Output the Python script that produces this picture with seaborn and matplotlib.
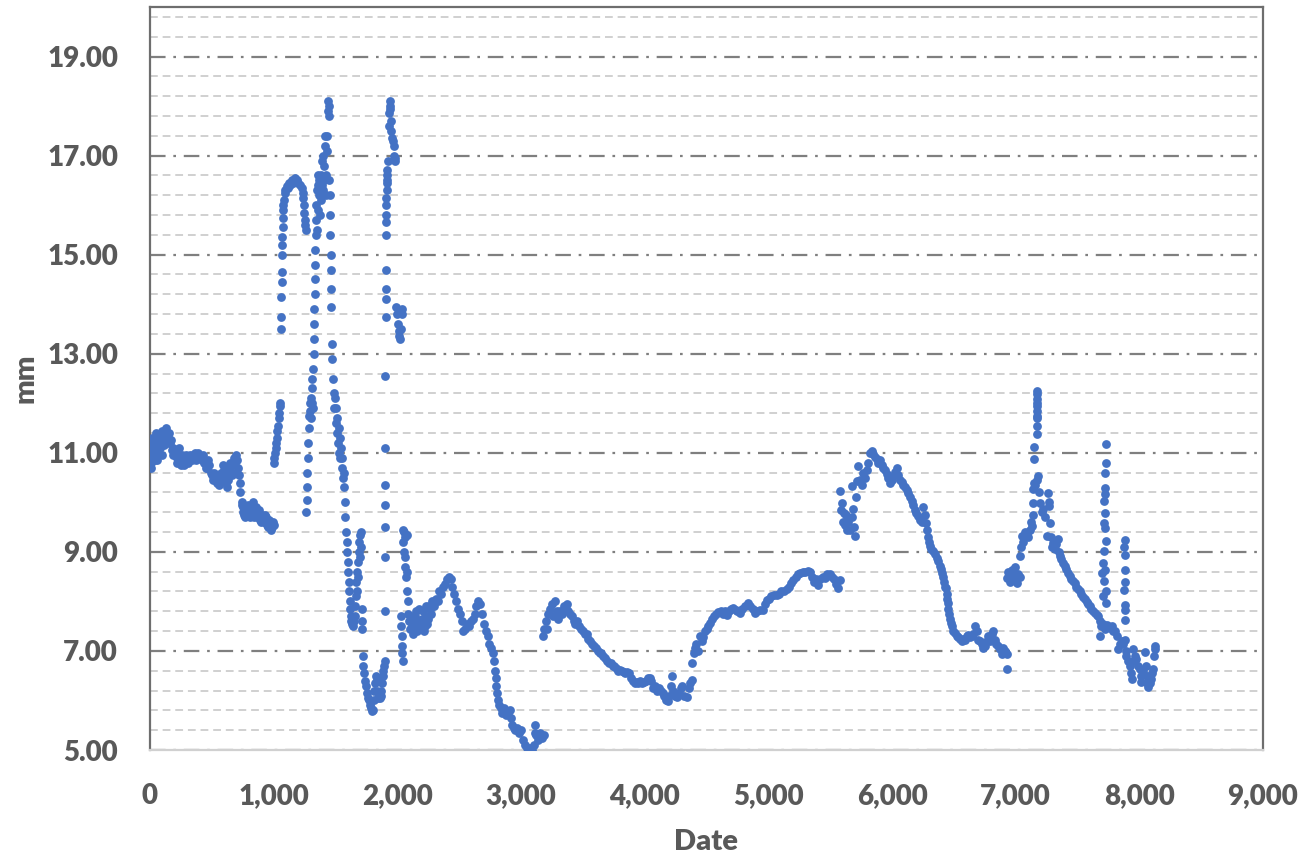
import matplotlib
matplotlib.use("Agg")
import matplotlib.pyplot as plt
import seaborn as sns
import pandas as pd

# ---- data (Date index, mm) ----
seg_start = [(0,11.0),(5,10.7),(10,10.8),(15,11.3),(20,11.2),(25,10.9),(30,11.1),(40,10.85),(45,11.4),(50,11.3),
             (60,11.0),(70,11.35),(80,11.1),(90,11.2),(100,11.45),(115,11.3),(130,11.5),(145,11.35),(160,11.2),
             (175,11.05),(190,11.1),(205,10.95),(220,10.9),(235,11.1),(250,10.75),(265,10.8),(280,10.85),(300,10.9),
             (320,10.95),(340,10.85),(360,11.0),(380,10.9),(400,10.95),(420,10.85),(440,10.8),(460,10.7),(480,10.75),
             (500,10.55),(520,10.6),(540,10.4),(560,10.35),(575,10.6),(590,10.75),(605,10.5),(620,10.3),(635,10.6),
             (650,10.8),(665,10.55),(680,10.9),(695,10.95),(710,10.7),(725,10.4),(730,10.2),(740,10.0),(745,9.95),
             (755,9.8),(770,9.7),(785,9.9),(800,9.75),(815,9.85),(830,10.0),(845,9.7),(860,9.9),(875,9.8),(890,9.65),
             (905,9.75),(920,9.6),(935,9.7),(950,9.55),(965,9.65),(980,9.45),(995,9.6),(1005,9.55)]

seg_start_band = [(8,11.05),(35,10.95),(55,10.85),(65,11.2),(85,11.3),(95,10.95),(110,11.15),(125,11.3),(140,11.2),
                  (155,11.4),(170,11.25),(185,10.95),(200,11.0),(215,10.8),(230,10.95),(245,10.85),(260,10.95),
                  (275,10.75),(290,10.95),(310,10.8),(330,10.9),(350,10.95),(370,10.85),(390,11.0),(410,10.9),
                  (430,10.95),(450,10.7),(470,10.85),(490,10.6),(510,10.45),(530,10.55),(550,10.5),(570,10.45),
                  (585,10.5),(600,10.65),(615,10.4),(630,10.45),(645,10.7),(660,10.75),(675,10.6),(690,10.8),
                  (705,10.85),(718,10.55),(750,9.9),(762,9.75),(778,9.85),(792,9.95),(808,9.7),(822,9.9),(838,9.8),
                  (852,9.75),(868,9.7),(882,9.85),(898,9.6),(912,9.7),(928,9.75),(942,9.6),(958,9.5),(972,9.6),
                  (988,9.5)]

seg_hump = [(1000,10.8),(1005,10.9),(1010,11.0),(1015,11.1),(1020,11.2),(1025,11.3),(1030,11.45),(1035,11.55),
            (1040,11.7),(1045,11.8),(1050,11.95),(1055,12.0),(1058,13.5),(1060,13.75),(1062,14.15),(1064,14.45),
            (1065,14.65),(1067,15.0),(1068,15.2),(1070,15.35),(1072,15.55),(1074,15.75),(1076,15.9),(1078,16.0),
            (1082,16.1),(1088,16.25),(1095,16.3),(1105,16.38),(1115,16.35),(1125,16.45),(1135,16.4),(1146,16.5),
            (1158,16.45),(1172,16.55),(1185,16.5),(1199,16.45),(1212,16.4),(1226,16.34),(1235,16.25),(1240,16.15),
            (1243,16.0),(1246,15.85),(1250,15.7),(1254,15.6),(1258,15.5)]

seg_spike1 = [(1262,9.8),(1268,10.05),(1270,10.3),(1273,10.6),(1276,10.9),(1279,11.2),(1283,11.5),(1288,11.75),
              (1292,12.0),(1297,11.85),(1300,12.1),(1304,11.7),(1307,12.3),(1310,12.0),(1313,12.5),(1316,11.9),
              (1320,12.7),(1323,13.0),(1325,13.3),(1327,13.6),(1329,13.9),(1331,14.2),(1333,14.5),(1335,14.8),
              (1337,15.1),(1340,15.4),(1343,15.7),(1346,16.0),(1349,15.5),(1352,16.3),(1355,16.6),(1358,15.9),
              (1362,16.4),(1366,16.2),(1370,16.5),(1374,15.8),(1378,16.3),(1382,16.6),(1386,16.1),(1390,16.4),
              (1394,16.9),(1398,16.3),(1402,17.0),(1406,16.5),(1410,16.8),(1414,17.2),(1418,17.4),(1422,16.6),
              (1426,16.2),(1430,17.1),(1434,17.4),(1438,17.9),(1441,18.1),(1444,18.0),(1447,17.8),(1450,16.5),
              (1453,16.2),(1456,15.8),(1458,15.4),(1460,15.0),(1462,14.7),(1464,14.3),(1466,13.95),(1470,13.2),
              (1475,12.9),(1480,12.5),(1485,12.2),(1490,11.9),(1495,12.1),(1500,11.6),(1505,11.9),(1510,11.4),
              (1515,11.7),(1520,11.2),(1525,11.5),(1530,11.0),(1535,11.3),(1540,10.9),(1545,11.1),(1550,10.7),
              (1555,10.9),(1560,10.5),(1565,10.6),(1570,10.3),(1575,10.0),(1580,9.7),(1585,9.4),(1590,9.2),
              (1594,9.0),(1598,8.8),(1602,8.6),(1606,8.4),(1610,8.2),(1614,8.0),(1618,7.85),(1622,7.7),
              (1628,7.6),(1635,7.55),(1642,7.5),(1648,7.6)]

seg_v = [(1655,7.7),(1660,7.9),(1665,8.1),(1668,8.4),(1672,8.2),(1676,8.6),(1680,8.8),(1684,8.5),(1688,9.0),
         (1692,9.2),(1696,8.9),(1700,9.35),(1704,9.1),(1708,9.4),(1711,7.85),(1714,7.6),(1716,7.45),
         (1720,6.9),(1726,6.7),(1732,6.55),(1740,6.4),(1748,6.3),(1756,6.15),(1764,6.05),(1772,6.0),(1780,5.9),
         (1788,5.85),(1795,5.78),(1802,5.8),(1808,6.0),(1814,6.2),(1820,6.35),(1826,6.5),(1832,6.45),(1838,6.2),
         (1845,6.05),(1852,6.1),(1858,6.05),(1864,6.1),(1870,6.2),(1876,6.35),(1882,6.5),(1888,6.6),(1894,6.7),
         (1900,6.8)]

seg_spike2 = [(1900,7.8),(1902,8.9),(1900,9.5),(1902,9.95),(1900,10.35),(1902,11.1),(1904,12.55),(1905,13.75),
              (1906,14.1),(1906,14.3),(1907,14.7),(1908,15.4),(1909,15.65),(1910,15.8),(1911,16.0),(1912,16.15),
              (1913,16.3),(1914,16.45),(1915,16.6),(1918,16.5),(1920,16.7),(1925,16.9),(1930,17.6),(1935,17.85),
              (1938,18.0),(1941,18.1),(1944,17.95),(1947,17.7),(1952,17.5),(1958,17.35),(1965,17.3),(1970,17.2),
              (1975,17.0),(1980,16.9),(1985,16.95),(1992,13.95),(1998,13.8),(2004,13.6),(2010,13.45),(2016,13.35),
              (2022,13.3),(2028,13.5),(2034,13.8),(2038,13.9),
              (2030,7.7),(2033,7.5),(2036,7.3),(2038,7.1),(2040,6.95),(2042,6.8),(2045,9.2),(2048,9.45),(2052,9.0),
              (2055,9.4),(2058,8.7),(2062,9.3),(2066,8.9),(2070,8.5),(2075,9.35),(2078,8.2),(2082,8.6),(2086,8.0)]

seg_m = [(2085,7.75),(2100,7.45),(2115,7.6),(2130,7.35),(2145,7.7),(2160,7.4),(2175,7.85),(2190,7.45),(2205,7.8),
         (2220,7.5),(2235,7.9),(2250,7.65),(2265,7.85),(2280,8.0),(2295,7.9),(2310,8.05),(2325,8.0),(2340,8.2),
         (2355,8.15),(2370,8.3),(2385,8.35),(2400,8.45),(2415,8.5),(2430,8.45),(2445,8.3),(2460,8.15),(2475,8.0),
         (2490,7.85),(2505,7.75),(2520,7.6),(2535,7.4),(2550,7.45),(2565,7.55),(2580,7.5),(2595,7.6),(2610,7.65),
         (2625,7.75),(2640,7.9),(2655,8.0),(2670,7.95),(2685,7.75),(2700,7.55),(2715,7.4),(2730,7.3),(2745,7.15),
         (2760,7.05),(2775,6.95),(2783,6.8),(2790,6.6),(2795,6.45),(2800,6.3),(2805,6.15),(2810,6.0),(2820,5.9),
         (2835,5.85),(2850,5.75),(2865,5.85),(2880,5.7),(2895,5.75),(2910,5.8),(2918,5.65),(2925,5.5),(2940,5.45),
         (2955,5.4),(2970,5.45),(2985,5.35),(3000,5.4),(3015,5.2),(3030,5.1),(3045,5.05),(3060,5.0),(3075,5.05),
         (3090,5.0),(3105,5.1),(3112,5.35),(3115,5.5),(3125,5.3),(3140,5.2),(3155,5.35),(3170,5.25),(3185,5.3)]

seg_m_band = [(2092,7.6),(2108,7.7),(2122,7.5),(2138,7.55),(2152,7.8),(2168,7.55),(2182,7.6),(2198,7.65),
              (2212,7.4),(2228,7.7),(2242,7.55),(2258,7.9),(2272,7.75)]

seg_valley = [(3180,7.3),(3190,7.45),(3200,7.6),(3210,7.45),(3220,7.75),(3235,7.85),(3250,7.95),(3262,7.7),
              (3275,8.0),(3290,7.8),(3301,7.65),(3315,7.8),(3330,7.75),(3345,7.9),(3360,7.85),(3369,7.95),
              (3383,7.8),(3396,7.75),(3410,7.7),(3425,7.6),(3440,7.55),(3455,7.6),(3470,7.5),(3485,7.45),
              (3500,7.4),(3515,7.35),(3530,7.35),(3545,7.25),(3560,7.2),(3575,7.15),(3590,7.1),(3605,7.05),
              (3620,7.0),(3635,6.95),(3650,6.95),(3665,6.9),(3680,6.85),(3695,6.8),(3710,6.75),(3725,6.75),
              (3740,6.7),(3755,6.7),(3770,6.65),(3785,6.6),(3800,6.62),(3815,6.6),(3830,6.58),(3845,6.55),
              (3860,6.58),(3875,6.55),(3890,6.45),(3905,6.4),(3920,6.35),(3935,6.38),(3950,6.35),(3965,6.4),
              (3980,6.35),(3995,6.38),(4010,6.4),(4025,6.45),(4040,6.45),(4055,6.4),(4070,6.25),(4085,6.3),
              (4100,6.2),(4115,6.25),(4130,6.2),(4145,6.15),(4160,6.1),(4175,6.0),(4190,5.98),(4200,6.1),
              (4210,6.3),(4218,6.5),(4230,6.2),(4245,6.1),(4258,6.08),(4275,6.15),(4290,6.25),(4305,6.3),
              (4320,6.1),(4340,6.08),(4355,6.25),(4370,6.35),(4385,6.41)]

seg_rise = [(4386,6.75),(4395,6.95),(4405,7.05),(4419,7.15),(4430,7.0),(4445,7.3),(4460,7.2),(4473,7.29),
            (4490,7.4),(4505,7.45),(4515,7.5),(4527,7.56),(4545,7.65),(4560,7.7),(4575,7.75),(4595,7.79),
            (4615,7.8),(4635,7.75),(4650,7.8),(4662,7.72),(4680,7.8),(4700,7.85),(4716,7.86),(4735,7.82),
            (4750,7.8),(4770,7.76),(4790,7.85),(4810,7.9),(4837,7.96),(4855,7.9),(4875,7.85),(4891,7.76),
            (4910,7.8),(4930,7.82),(4959,7.83),(4975,7.95),(4986,8.03),(5005,8.05),(5025,8.1),(5045,8.12),
            (5067,8.13),(5085,8.15),(5105,8.2),(5125,8.22),(5147,8.26),(5165,8.3),(5185,8.38),(5201,8.43),
            (5220,8.5),(5242,8.56),(5260,8.58),(5280,8.6),(5300,8.6),(5320,8.62),(5336,8.6),(5355,8.5),
            (5370,8.4),(5385,8.45),(5403,8.33),(5420,8.45),(5440,8.5),(5457,8.47),(5475,8.55),(5498,8.56),
            (5515,8.5),(5530,8.45),(5550,8.35),(5565,8.27),(5578,8.43)]

seg_peak = [(5579,10.23),(5585,9.85),(5592,9.99),(5600,9.6),(5610,9.79),(5619,9.55),(5625,9.75),(5635,9.45),
            (5645,9.6),(5660,9.45),(5673,10.33),(5680,9.7),(5687,9.86),(5695,9.5),(5700,9.32),(5705,10.1),
            (5715,10.43),(5727,10.73),(5740,10.45),(5754,10.36),(5768,10.6),(5780,10.5),(5794,10.66),(5808,10.8),
            (5821,11.0),(5835,11.03),(5848,10.98),(5862,10.92),(5875,10.87),(5890,10.8),(5905,10.85),(5916,10.76),
            (5930,10.7),(5943,10.66),(5958,10.58),(5970,10.5),(5983,10.39),(5997,10.45),(6010,10.53),(6024,10.62),
            (6037,10.7),(6051,10.55),(6065,10.46),(6077,10.42),(6090,10.36),(6105,10.3),(6118,10.25),(6130,10.19),
            (6145,10.1),(6158,10.02),(6172,9.95),(6185,9.85),(6198,9.79),(6212,9.72),(6225,9.65),(6239,9.6),
            (6252,9.9),(6266,9.75),(6275,9.59),(6280,9.45),(6288,9.3),(6296,9.2),(6306,9.11),(6318,9.05),
            (6330,9.01),(6347,8.95),(6360,8.88),(6374,8.81),(6387,8.72),(6400,8.65),(6408,8.58),(6414,8.5),
            (6422,8.4),(6430,8.3),(6436,8.27),(6441,8.15),(6446,8.05),(6450,7.97),(6455,7.85),(6462,7.75),
            (6468,7.65),(6475,7.57),(6482,7.5),(6495,7.4),(6508,7.36),(6522,7.3),(6535,7.28),(6550,7.25),
            (6563,7.2),(6576,7.25),(6590,7.22),(6603,7.3),(6617,7.32),(6630,7.28),(6645,7.3),(6657,7.35),
            (6670,7.5),(6684,7.4),(6698,7.23),(6711,7.2),(6724,7.15),(6738,7.06),(6752,7.1),(6765,7.2),
            (6779,7.3),(6792,7.2),(6805,7.35),(6818,7.4),(6832,7.23),(6845,7.15),(6859,7.1),(6872,7.03),
            (6886,6.93),(6900,7.05),(6913,7.0),(6926,6.93),(6932,6.64)]

seg_end = [(6926,8.48),(6940,8.6),(6955,8.4),(6967,8.64),(6980,8.5),(6995,8.7),(7007,8.37),(7020,8.55),
           (7034,8.5),(7039,8.91),(7045,9.1),(7048,9.32),(7060,9.2),(7075,9.4),(7088,9.38),(7100,9.3),
           (7115,9.45),(7125,9.6),(7136,9.52),(7140,9.75),(7142,9.99),(7144,10.26),(7150,10.4),(7160,10.35),
           (7169,10.46),(7182,10.53),(7147,10.87),(7147,11.12),(7169,11.37),(7169,11.54),(7170,11.7),(7169,11.84),
           (7172,11.95),(7169,12.08),(7171,12.18),(7169,12.25),(7174,12.01),(7174,11.74),
           (7190,10.2),(7196,9.99),(7210,9.8),(7223,9.86),(7235,9.7),(7250,9.32),(7263,10.19),(7268,10.0),
           (7271,9.92),(7277,9.59),(7285,9.3),(7293,9.1),(7303,9.18),(7315,9.05),(7330,9.15),(7344,9.25),
           (7350,9.0),(7357,8.92),(7370,8.85),(7385,8.78),(7398,8.71),(7410,8.65),(7425,8.58),(7438,8.51),
           (7450,8.45),(7465,8.42),(7479,8.37),(7490,8.3),(7505,8.25),(7519,8.21),(7532,8.15),(7545,8.08),
           (7560,8.04),(7573,7.98),(7587,7.95),(7600,7.9),(7613,7.85),(7627,7.8),(7640,7.77),(7655,7.72),
           (7667,7.7),(7680,7.6),(7681,7.3),(7694,7.5),(7708,7.55),(7720,7.45),(7735,7.53),(7748,7.48),
           (7762,7.47),(7775,7.5),(7790,7.4),(7802,7.4),(7816,7.3),(7829,7.03),(7842,7.13),(7856,7.2),
           (7870,7.15),(7883,7.23),(7890,7.0),(7896,6.9),(7910,6.8),(7923,6.7),(7930,6.55),(7937,6.43),
           (7945,6.8),(7950,7.03),(7963,6.9),(7977,6.83),(7990,6.7),(8004,6.64),(8010,6.5),(8017,6.37),
           (8030,6.6),(8044,6.97),(8050,6.7),(8058,6.5),(8065,6.35),(8071,6.27),(8085,6.35),(8098,6.43),
           (8105,6.55),(8112,6.64),(8120,6.9),(8125,7.03),(8128,7.1),
           (7729,11.17),(7729,10.8),(7721,10.6),(7721,10.29),(7721,10.16),(7713,10.02),(7721,9.79),(7713,9.59),
           (7721,9.49),(7729,9.22),(7713,9.01),(7708,8.78),(7721,8.64),(7702,8.58),(7713,8.41),(7729,8.21),
           (7708,8.1),(7729,7.97),
           (7883,9.24),(7880,9.1),(7883,8.94),(7886,8.64),(7883,8.4),(7880,8.23),(7883,7.93),(7886,7.63),(7883,7.83)]

x_ticks = [0, 1000, 2000, 3000, 4000, 5000, 6000, 7000, 8000, 9000]
y_ticks = [5, 7, 9, 11, 13, 15, 17, 19]
x_label = "Date"
y_label = "mm"

segments = [seg_start, seg_start_band, seg_hump, seg_spike1, seg_v, seg_spike2, seg_m, seg_m_band,
            seg_valley, seg_rise, seg_peak, seg_end]
rows = [p for seg in segments for p in seg]
df = pd.DataFrame(rows, columns=[x_label, y_label])

sns.set_theme(style="white")
plt.rcParams["font.family"] = ["Lato", "DejaVu Sans"]

TXT = "#595959"
fig = plt.figure(figsize=(13.14, 8.55), dpi=100)
ax = fig.add_axes([150/1314, 105/855, 1113/1314, 743/855])

sns.scatterplot(data=df, x=x_label, y=y_label, color="#4472C4", s=40, linewidth=0, ax=ax, zorder=3)

ax.set_xlim(0, 9000)
ax.set_ylim(5, 20)
ax.set_xticks(x_ticks, labels=[f"{v:,}" for v in x_ticks], fontweight="heavy")
ax.set_yticks(y_ticks, labels=[f"{v:.2f}" for v in y_ticks], fontweight="heavy")
minor = [round(5 + 0.4 * k, 1) for k in range(1, 38)]
minor = [m for m in minor if m not in y_ticks]
ax.set_yticks(minor, minor=True)

ax.grid(False)
ax.grid(which="minor", axis="y", color="#D0D0D0", linestyle=(0, (4, 2.5)), linewidth=1.4, zorder=0)
ax.grid(which="major", axis="y", color="#7F7F7F", linestyle=(0, (7, 3.5, 1.2, 3.5)), linewidth=1.6, zorder=0)
ax.set_axisbelow(True)

ax.tick_params(axis="y", which="both", length=0, pad=23, labelsize=20, labelcolor=TXT)
ax.tick_params(axis="x", which="major", direction="in", length=7, width=1.5, color="#D0D0D0",
               pad=24, labelsize=20, labelcolor=TXT)

for side in ["left", "top", "right"]:
    ax.spines[side].set_color("#6E6E6E")
    ax.spines[side].set_linewidth(1.6)
ax.spines["bottom"].set_color("#D0D0D0")
ax.spines["bottom"].set_linewidth(1.6)

ax.set_xlabel(x_label, fontsize=21, fontweight="heavy", color=TXT, labelpad=14)
ax.set_ylabel(y_label, fontsize=21, fontweight="heavy", color=TXT, labelpad=6)

fig.savefig("out.png", dpi=100, facecolor="white")
